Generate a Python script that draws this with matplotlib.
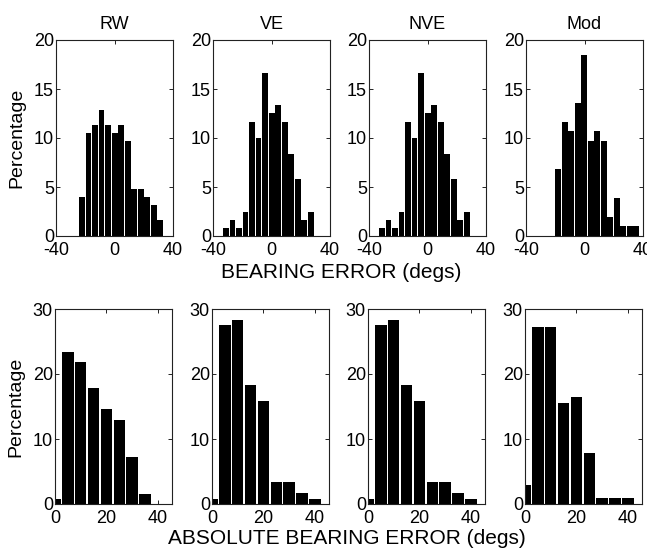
import matplotlib
matplotlib.use("Agg")
import matplotlib.pyplot as plt

plt.rcParams['font.family'] = ['Liberation Sans', 'DejaVu Sans']
plt.rcParams['axes.unicode_minus'] = False

# --- DATA ---
titles = ["RW", "VE", "NVE", "Mod"]

# signed bearing error histograms (bin centres, % of trials)
rw_centers = [-22.2, -17.7, -13.3, -8.8, -4.4, 0.1, 4.5, 9.0, 13.4, 17.9, 22.3, 26.8, 31.2]
rw_pct = [4.0, 10.5, 11.3, 12.9, 11.3, 10.5, 11.3, 9.7, 4.8, 4.8, 4.0, 3.2, 1.6]

ve_centers = [-31.0, -26.6, -22.1, -17.7, -13.2, -8.8, -4.3, 0.1, 4.6, 9.0, 13.5, 17.9, 22.4, 26.8]
ve_pct = [0.83, 1.67, 0.83, 2.5, 11.67, 10.0, 16.67, 12.5, 13.33, 11.67, 8.33, 5.83, 1.67, 2.5]

nve_centers = [-31.0, -26.6, -22.1, -17.7, -13.2, -8.8, -4.3, 0.1, 4.6, 9.0, 13.5, 17.9, 22.4, 26.8]
nve_pct = [0.83, 1.67, 0.83, 2.5, 11.67, 10.0, 16.67, 12.5, 13.33, 11.67, 8.33, 5.83, 1.67, 2.5]

mod_centers = [-18.0, -13.5, -9.1, -4.6, -0.2, 4.3, 8.7, 13.2, 17.6, 22.1, 26.5, 31.0, 35.4]
mod_pct = [6.8, 11.65, 10.7, 13.6, 18.45, 9.7, 10.7, 9.7, 1.95, 3.9, 0.97, 0.97, 0.97]

# absolute bearing error histograms
abs_centers = [0, 5, 10, 15, 20, 25, 30, 35, 40]
rw_abs = [0.8, 23.4, 21.8, 17.8, 14.6, 13.0, 7.3, 1.6, 0.0]
ve_abs = [0.83, 27.5, 28.33, 18.33, 15.83, 3.33, 3.33, 1.67, 0.83]
nve_abs = [0.83, 27.5, 28.33, 18.33, 15.83, 3.33, 3.33, 1.67, 0.83]
mod_abs = [2.9, 27.2, 27.2, 15.5, 16.5, 7.8, 1.0, 1.0, 1.0]

top_data = [(rw_centers, rw_pct), (ve_centers, ve_pct), (nve_centers, nve_pct), (mod_centers, mod_pct)]
bot_data = [rw_abs, ve_abs, nve_abs, mod_abs]

W, H = 647, 557
fig = plt.figure(figsize=(W / 100, H / 100), dpi=100)

lefts = [56, 213, 369, 526]
ax_w = 117


def style(ax):
    ax.tick_params(direction='in', top=True, right=True, length=3, width=0.6,
                   labelsize=13, pad=1.5)
    ax.tick_params(axis='x', pad=4)
    for s in ax.spines.values():
        s.set_linewidth(0.8)
        s.set_color('#222222')


for i in range(4):
    # top row: signed error
    ax = fig.add_axes([lefts[i] / W, 1 - 236 / H, ax_w / W, 196 / H])
    c, p = top_data[i]
    ax.bar(c, p, width=4.45 * 0.88, color='black')
    ax.set_xlim(-40, 40)
    ax.set_ylim(0, 20)
    ax.set_xticks([-40, 0, 40])
    ax.set_yticks([0, 5, 10, 15, 20])
    ax.set_title(titles[i], fontsize=13, pad=8)
    style(ax)
    if i == 0:
        ax.set_ylabel("Percentage", fontsize=14)
        ax.yaxis.set_label_coords(-0.265, 0.5)

    # bottom row: absolute error
    ax2 = fig.add_axes([(lefts[i] - 1) / W, 1 - 504 / H, ax_w / W, 195 / H])
    ax2.bar(abs_centers, bot_data[i], width=4.4, color='black')
    ax2.set_xlim(0, 45.5)
    ax2.set_ylim(0, 30)
    ax2.set_xticks([0, 20, 40])
    ax2.set_yticks([0, 10, 20, 30])
    style(ax2)
    if i == 0:
        ax2.set_ylabel("Percentage", fontsize=14)
        ax2.yaxis.set_label_coords(-0.26, 0.5)

fig.text(341 / W, 1 - 272 / H, "BEARING ERROR (degs)", ha='center', va='center', fontsize=15)
fig.text(347 / W, 1 - 538 / H, "ABSOLUTE BEARING ERROR (degs)", ha='center', va='center', fontsize=15)

fig.savefig("out.png", dpi=100)
